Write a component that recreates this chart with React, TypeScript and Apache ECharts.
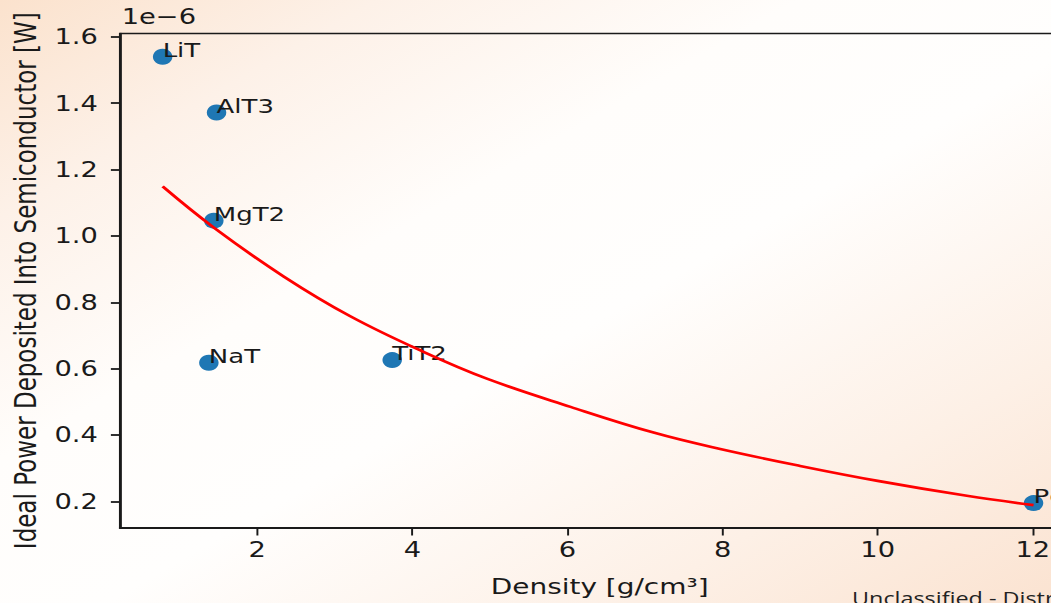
import React, { useEffect, useRef } from "react";
import * as echarts from "echarts";

const materials = ["LiT", "AlT3", "MgT2", "NaT", "TiT2", "PdT"];
const densities = [0.78, 1.475, 1.44, 1.376, 3.74, 12.01];
const powers = [1.54, 1.372, 1.046, 0.618, 0.626, 0.195];

const fitDensities = [0.78, 1.44, 2.34, 3.2, 4.15, 4.96, 6.04, 7.11, 7.97, 9.0, 10.0, 11.15, 12.01];
const fitPowers = [1.149, 1.025, 0.878, 0.758, 0.65, 0.57, 0.485, 0.4075, 0.358, 0.307, 0.262, 0.217, 0.189];

const xTicks = [2, 4, 6, 8, 10, 12];
const yTicks = [0.2, 0.4, 0.6, 0.8, 1.0, 1.2, 1.4, 1.6];

const FONT = "DejaVu Sans";
const SX = 1.3; // the slide is stretched horizontally

export default function App() {
  const ref = useRef<HTMLDivElement>(null);
  useEffect(() => {
    if (!ref.current) return;
    const chart = echarts.init(ref.current, null, { renderer: "svg" });
    chart.setOption({
      animation: false,
      backgroundColor: "transparent",
      grid: {
        left: 119.3 / SX,
        top: 33.5,
        width: 960 / SX,
        height: 495.5,
        show: true,
        borderColor: "#1a1a1a",
        borderWidth: 1.6,
        backgroundColor: "transparent",
      },
      xAxis: {
        type: "value",
        min: 0.23,
        max: 12.6,
        name: "Density [g/cm³]",
        nameLocation: "middle",
        nameGap: 48,
        nameTextStyle: { fontFamily: FONT, fontSize: 21.5, color: "#1a1a1a" },
        axisLine: { show: true, lineStyle: { color: "#1a1a1a", width: 1.8 } },
        axisTick: { show: true, length: 7.5, lineStyle: { color: "#1a1a1a", width: 1.5 }, customValues: xTicks },
        axisLabel: { fontFamily: FONT, fontSize: 21, color: "#1a1a1a", margin: 11, customValues: xTicks },
        splitLine: { show: false },
      },
      yAxis: {
        type: "value",
        min: 0.12,
        max: 1.61,
        name: "Ideal Power Deposited Into Semiconductor [W]",
        nameLocation: "middle",
        nameGap: 61,
        nameTextStyle: { fontFamily: FONT, fontSize: 23, color: "#1a1a1a" },
        axisLine: { show: true, lineStyle: { color: "#1a1a1a", width: 1.5 } },
        axisTick: { show: true, length: 7, lineStyle: { color: "#1a1a1a", width: 1.8 }, customValues: yTicks },
        axisLabel: {
          fontFamily: FONT,
          fontSize: 21,
          color: "#1a1a1a",
          margin: 17,
          customValues: yTicks,
          formatter: (v: number) => v.toFixed(1),
        },
        splitLine: { show: false },
      },
      graphic: [
        {
          type: "text",
          left: 121.7 / SX,
          top: 6,
          style: { text: "1e\u22126", font: `21px "${FONT}"`, fill: "#1a1a1a" },
        },
        {
          type: "text",
          left: 852 / SX,
          top: 589,
          style: { text: "Unclassified - Distribution", font: `18px "Open Sans"`, fill: "#222" },
        },
      ],
      series: [
        {
          type: "scatter",
          data: densities.map((d, i) => [d, powers[i], materials[i]]),
          symbol: "circle",
          symbolSize: [15, 16],
          itemStyle: { color: "#1f77b4", opacity: 1 },
          z: 2,
          label: {
            show: true,
            formatter: (p: any) => p.data[2],
            position: [7.5, 11],
            align: "left",
            verticalAlign: "bottom",
            fontFamily: FONT,
            fontSize: 20,
            lineHeight: 20,
            color: "#1a1a1a",
          },
        },
        {
          type: "line",
          data: fitDensities.map((d, i) => [d, fitPowers[i]]),
          showSymbol: false,
          smooth: 0.4,
          lineStyle: { color: "#ff0000", width: 2.6 },
          z: 3,
        },
      ],
    });
    return () => chart.dispose();
  }, []);
  return (
    <div
      style={{
        position: "fixed",
        left: 0,
        top: 0,
        width: 1051,
        height: 603,
        overflow: "hidden",
        background:
          "linear-gradient(to bottom right, #fbe2cd 0%, #fdf1e8 18%, #fffdfb 38%, #fffefd 55%, #fdf0e6 80%, #fbe3d1 100%)",
      }}
    >
      <div
        ref={ref}
        style={{ width: 1100 / SX, height: 603, transform: `scaleX(${SX})`, transformOrigin: "0 0" }}
      />
    </div>
  );
}
